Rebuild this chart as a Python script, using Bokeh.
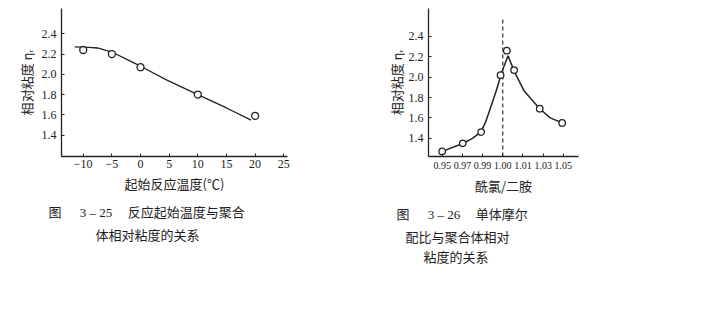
from bokeh.plotting import figure
from bokeh.layouts import row
from bokeh.models import FixedTicker, PrintfTickFormatter, Title
from bokeh.embed import file_html
from bokeh.resources import INLINE

# ---- data: left chart (initial reaction temperature vs relative viscosity)
temp_c = [-10, -5, 0, 10, 20]
visc_temp = [2.24, 2.20, 2.07, 1.80, 1.59]
temp_curve_x = [-11.5, -9.0, -7.5, -5.0, -2.3, 0.0, 4.7, 10.0, 15.1, 19.3]
temp_curve_y = [2.27, 2.265, 2.26, 2.22, 2.145, 2.08, 1.94, 1.80, 1.665, 1.547]
temp_ticks = [-10, -5, 0, 5, 10, 15, 20, 25]

# ---- data: right chart (acid chloride / diamine ratio vs relative viscosity)
ratio_labels = ["0.95", "0.97", "0.99", "1.00", "1.01", "1.03", "1.05"]
ratio_slot = [0.0, 1.02, 1.93, 2.89, 3.20, 3.56, 4.83, 5.94]
visc_ratio = [1.27, 1.35, 1.46, 2.02, 2.26, 2.07, 1.69, 1.55]
ratio_curve_x = [0.0, 1.02, 1.52, 1.93, 2.15, 2.41, 2.66, 2.98, 3.26,
                 3.55, 4.04, 4.83, 5.35, 5.94]
ratio_curve_y = [1.27, 1.348, 1.40, 1.465, 1.56, 1.71, 1.856, 2.065, 2.21,
                 2.065, 1.87, 1.69, 1.60, 1.55]
equimolar_slot = 3
visc_ticks = [1.4, 1.6, 1.8, 2.0, 2.2, 2.4]

EM, EN, THIN = "\u2003", "\u2002", "\u2009"
cap_left = ["图" + EM + THIN + THIN + "3 – 25" + EM + THIN + "反应起始温度与聚合",
            "体相对粘度的关系"]
cap_right = ["图" + EM + THIN + THIN + "3 – 26" + EM + THIN + "单体摩尔",
             "配比与聚合体相对",
             "粘度的关系"]

INK = "#222222"
CJK = "Noto Sans CJK SC"
SERIF = "Liberation Serif"
MIXED = "Liberation Serif, Noto Sans CJK SC"


def style(p, tick_size):
    p.outline_line_color = None
    p.xgrid.visible = False
    p.ygrid.visible = False
    p.background_fill_color = "white"
    p.border_fill_color = "white"
    for ax in (p.xaxis[0], p.yaxis[0]):
        ax.axis_line_color = INK
        ax.axis_line_width = 1.3
        ax.major_tick_line_color = INK
        ax.major_tick_in = 3
        ax.major_tick_out = 0
        ax.minor_tick_line_color = None
        ax.major_label_text_font = SERIF
        ax.major_label_text_color = INK
        ax.axis_label_text_font = CJK
        ax.axis_label_text_font_style = "normal"
        ax.axis_label_text_font_size = "13px"
        ax.axis_label_text_color = INK
    p.yaxis[0].major_label_text_font_size = "12px"
    p.xaxis[0].major_label_text_font_size = tick_size
    p.yaxis[0].ticker = FixedTicker(ticks=visc_ticks)
    p.yaxis[0].formatter = PrintfTickFormatter(format="%.1f")
    p.yaxis[0].axis_label = "相对粘度 ηᵣ"


def caption(p, text, offset, standoff):
    p.add_layout(Title(text=text, align="left", offset=offset, standoff=standoff,
                       text_font=MIXED, text_font_size="13px",
                       text_font_style="normal", text_color=INK), "below")


# ---------------- left figure
p1 = figure(width=380, height=318, x_range=(-13.79, 25.65), y_range=(1.188, 2.65),
            min_border_left=61, min_border_right=93, min_border_top=8,
            min_border_bottom=162, toolbar_location=None, output_backend="svg")
style(p1, "12px")
p1.xaxis[0].ticker = FixedTicker(ticks=temp_ticks)
p1.xaxis[0].axis_label = "起始反应温度(℃)"
p1.xaxis[0].major_label_standoff = 3
p1.xaxis[0].axis_label_standoff = 3
p1.yaxis[0].major_label_standoff = 5
p1.yaxis[0].axis_label_standoff = 3
p1.line(temp_curve_x, temp_curve_y, line_color=INK, line_width=1.3)
p1.scatter(temp_c, visc_temp, marker="circle", size=7, fill_color="white",
           line_color=INK, line_width=1.3)

caption(p1, cap_left[0], -13, 15)
caption(p1, cap_left[1], 34, -4)

# ---------------- right figure
p2 = figure(width=335, height=318, x_range=(-0.68, 6.75), y_range=(1.22, 2.675),
            min_border_left=48, min_border_right=137, min_border_top=5,
            min_border_bottom=162, toolbar_location=None, output_backend="svg")
style(p2, "10px")
p2.xaxis[0].ticker = FixedTicker(ticks=list(range(len(ratio_labels))))
p2.xaxis[0].major_label_overrides = {i: s for i, s in enumerate(ratio_labels)}
p2.xaxis[0].axis_label = "酰氯/二胺"
p2.xaxis[0].major_label_standoff = 5
p2.xaxis[0].axis_label_standoff = 4
p2.yaxis[0].major_label_standoff = 5
p2.yaxis[0].axis_label_standoff = 0

p2.segment(x0=[equimolar_slot], y0=[1.22], x1=[equimolar_slot], y1=[2.58],
           line_color=INK, line_width=1.1, line_dash="4 3")
p2.line(ratio_curve_x, ratio_curve_y, line_color=INK, line_width=1.5)
p2.scatter(ratio_slot, visc_ratio, marker="circle", size=6.5, fill_color="white",
           line_color=INK, line_width=1.3)

caption(p2, cap_right[0], -32, 15)
caption(p2, cap_right[1], -23, -3)
caption(p2, cap_right[2], -5, 8)

layout = row(p1, p2)
open("out.html", "w").write(file_html(layout, INLINE))
